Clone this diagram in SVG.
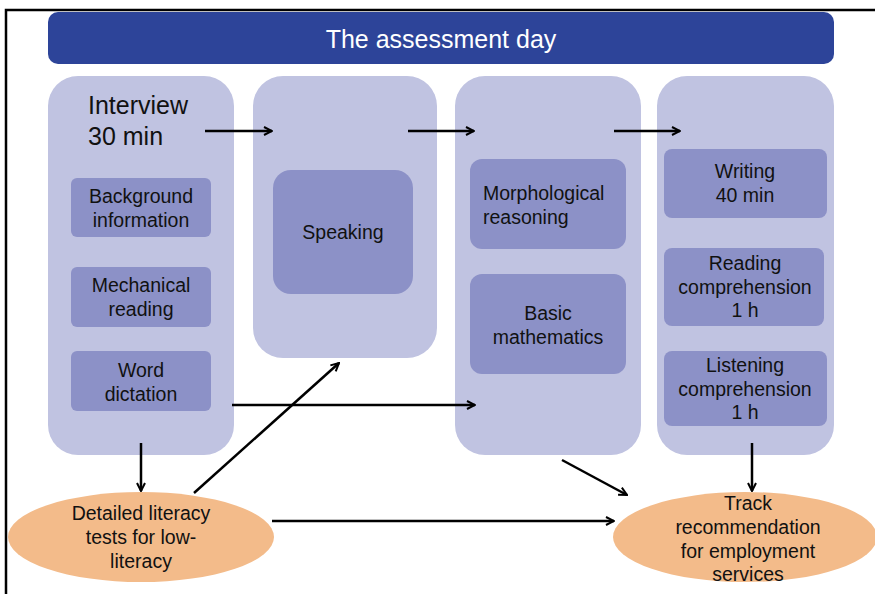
<svg xmlns="http://www.w3.org/2000/svg" width="875" height="594" viewBox="0 0 875 594">
<defs>
<marker id="ah" viewBox="0 0 10 10" refX="9" refY="5" markerWidth="10" markerHeight="10" markerUnits="userSpaceOnUse" orient="auto">
<path d="M1,1 L9,5 L1,9" fill="none" stroke="#000" stroke-width="2"/>
</marker>
<style>
.col{fill:#C0C3E1}
.box{fill:#8C91C7}
.ell{fill:#F3BB8A}
.t{font-family:"Liberation Sans",Arial,sans-serif;font-size:19.5px;fill:#111;text-anchor:middle}
.l{text-anchor:start}
.c{stroke:#000;stroke-width:2.5;fill:none;marker-end:url(#ah)}
</style>
</defs>
<rect width="875" height="594" fill="#fff"/>
<path d="M6,594 V10 H875" fill="none" stroke="#000" stroke-width="2.5"/>
<g id="header">
<rect x="48" y="12" width="786" height="52" rx="10" fill="#2D4499"/>
<text x="441" y="48" font-family="Liberation Sans,Arial,sans-serif" font-size="25" fill="#fff" text-anchor="middle">The assessment day</text>
</g>
<g id="col1">
<rect class="col" x="48" y="76" width="186" height="379" rx="30"/>
<text x="88" y="114" font-family="Liberation Sans,Arial,sans-serif" font-size="25" fill="#111">Interview</text>
<text x="88" y="145" font-family="Liberation Sans,Arial,sans-serif" font-size="25" fill="#111">30 min</text>
</g>
<g id="background">
<rect class="box" x="71" y="178" width="140" height="59" rx="6"/>
<text class="t" x="141" y="203">Background</text>
<text class="t" x="141" y="227">information</text>
</g>
<g id="mechanical">
<rect class="box" x="71" y="267" width="140" height="60" rx="6"/>
<text class="t" x="141" y="292">Mechanical</text>
<text class="t" x="141" y="316">reading</text>
</g>
<g id="dictation">
<rect class="box" x="71" y="351" width="140" height="60" rx="6"/>
<text class="t" x="141" y="377">Word</text>
<text class="t" x="141" y="401">dictation</text>
</g>
<g id="col2">
<rect class="col" x="253" y="76" width="184" height="282" rx="30"/>
</g>
<g id="speaking">
<rect class="box" x="273" y="170" width="140" height="124" rx="18"/>
<text class="t" x="343" y="239">Speaking</text>
</g>
<g id="col3">
<rect class="col" x="455" y="76" width="186" height="379" rx="30"/>
</g>
<g id="morph">
<rect class="box" x="470" y="159" width="156" height="90" rx="12"/>
<text class="t l" x="483" y="200">Morphological</text>
<text class="t l" x="483" y="224">reasoning</text>
</g>
<g id="math">
<rect class="box" x="470" y="274" width="156" height="100" rx="12"/>
<text class="t" x="548" y="320">Basic</text>
<text class="t" x="548" y="344">mathematics</text>
</g>
<g id="col4">
<rect class="col" x="657" y="76" width="177" height="379" rx="30"/>
</g>
<g id="writing">
<rect class="box" x="664" y="149" width="163" height="69" rx="8"/>
<text class="t" x="745" y="178">Writing</text>
<text class="t" x="745" y="202">40 min</text>
</g>
<g id="reading">
<rect class="box" x="664" y="248" width="160" height="78" rx="8"/>
<text class="t" x="745" y="270">Reading</text>
<text class="t" x="745" y="294">comprehension</text>
<text class="t" x="745" y="317">1 h</text>
</g>
<g id="listening">
<rect class="box" x="664" y="351" width="163" height="75" rx="8"/>
<text class="t" x="745" y="372">Listening</text>
<text class="t" x="745" y="396">comprehension</text>
<text class="t" x="745" y="419">1 h</text>
</g>
<g id="detailed">
<ellipse class="ell" cx="141" cy="537" rx="133" ry="45"/>
<text class="t" x="141" y="520">Detailed literacy</text>
<text class="t" x="141" y="544">tests for low-</text>
<text class="t" x="141" y="568">literacy</text>
</g>
<g id="track">
<ellipse class="ell" cx="745" cy="537" rx="132" ry="45"/>
<text class="t" x="748" y="510">Track</text>
<text class="t" x="748" y="534">recommendation</text>
<text class="t" x="748" y="558">for employment</text>
<text class="t" x="748" y="581">services</text>
</g>
<g id="connectors">
<line class="c" x1="205" y1="131" x2="272" y2="131"/>
<line class="c" x1="408" y1="131" x2="474" y2="131"/>
<line class="c" x1="614" y1="131" x2="680" y2="131"/>
<line class="c" x1="232" y1="405" x2="475" y2="405"/>
<line class="c" x1="194" y1="493" x2="339" y2="363"/>
<line class="c" x1="141" y1="443" x2="141" y2="491"/>
<line class="c" x1="562" y1="460" x2="627" y2="495"/>
<line class="c" x1="752" y1="443" x2="752" y2="491"/>
<line class="c" x1="272" y1="521" x2="614" y2="521"/>
</g>
</svg>
